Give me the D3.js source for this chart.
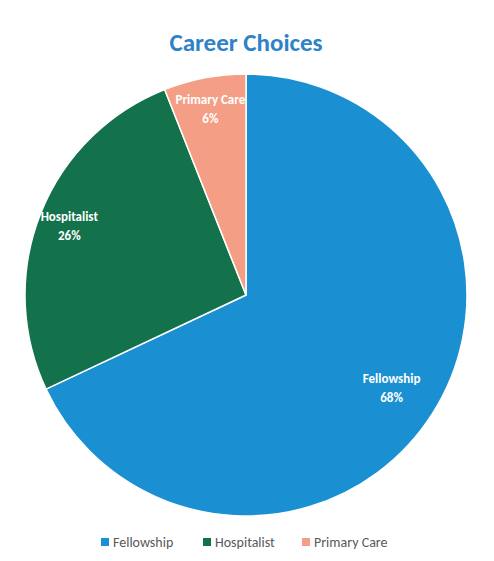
<!DOCTYPE html>
<html>
<head>
<meta charset="utf-8">
<script src="https://cdn.jsdelivr.net/npm/d3@7"></script>
<style>
  body { margin: 0; background: #fff; }
  text { font-family: Calibri, Carlito, "Open Sans", sans-serif; }
</style>
</head>
<body>
<svg id="chart" width="494" height="561"></svg>
<script>
const categories = ['Fellowship', 'Hospitalist', 'Primary Care']
const values = [68, 26, 6]
const colors = ['#1a8fd1', '#13714b', '#f59e86']

const svg = d3.select('#chart')
const cx = 246, cy = 295, radius = 221

svg.append('text')
    .attr('x', 246).attr('y', 51)
    .attr('text-anchor', 'middle')
    .attr('font-size', 25).attr('font-weight', 'bold')
    .attr('fill', '#2e82c6')
    .text('Career Choices')

const pie = d3.pie().sort(null).value(d => d.value)
const data = pie(categories.map((c, i) => ({ name: c, value: values[i], color: colors[i] })))

const arc = d3.arc().innerRadius(0).outerRadius(radius)
const g = svg.append('g').attr('transform', `translate(${cx},${cy})`)

g.selectAll('path')
    .data(data)
    .enter()
    .append('path')
    .attr('d', arc)
    .attr('fill', d => d.data.color)
    .attr('stroke', '#fff')
    .attr('stroke-width', 1.5)

// label radius a bit further out for smaller slices
const labelArc = d => d3.arc()
    .innerRadius(radius * (d.index === 0 ? 0.78 : 0.86))
    .outerRadius(radius * (d.index === 0 ? 0.78 : 0.86))

const labels = g.selectAll('text.lbl')
    .data(data)
    .enter()
    .append('text')
    .attr('class', 'lbl')
    .attr('transform', d => `translate(${labelArc(d).centroid(d)})`)
    .attr('text-anchor', 'middle')
    .attr('font-size', 13).attr('font-weight', 'bold')
    .attr('fill', '#fff')

labels.append('tspan').attr('x', 0).attr('dy', '-0.3em').text(d => d.data.name)
labels.append('tspan').attr('x', 0).attr('dy', '1.45em').text(d => d.data.value + '%')

// legend
const legendX = [101, 203, 302]
const legend = svg.append('g')
categories.forEach((c, i) => {
    legend.append('rect')
        .attr('x', legendX[i]).attr('y', 538)
        .attr('width', 8).attr('height', 8)
        .attr('fill', colors[i])
    legend.append('text')
        .attr('x', legendX[i] + 12).attr('y', 547)
        .attr('font-size', 14).attr('fill', '#595959')
        .text(c)
})
</script>
</body>
</html>
